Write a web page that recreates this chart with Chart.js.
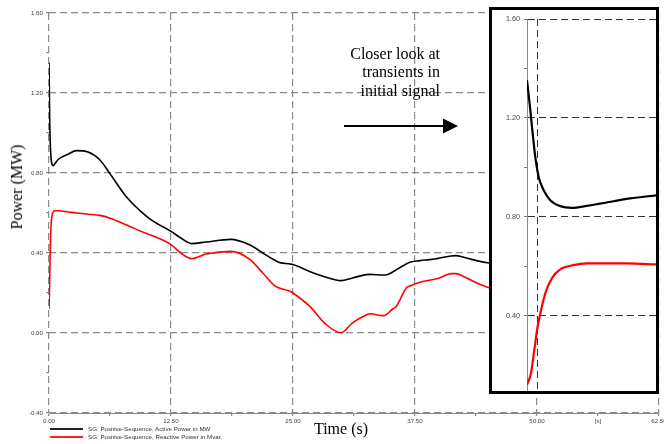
<!DOCTYPE html>
<html>
<head>
<meta charset="utf-8">
<script src="https://cdn.jsdelivr.net/npm/chart.js@4.4.0/dist/chart.umd.min.js"></script>
<style>
  html, body { margin: 0; padding: 0; background: #fff; }
  #wrap { position: relative; width: 664px; height: 444px; overflow: hidden; }
  #main { position: absolute; left: 0; top: 0; }
  #insetBox { position: absolute; left: 489px; top: 7px; width: 164px; height: 381px; border: 3px solid #000; background: #fff; }
  #inset { position: absolute; left: 0; top: 0; }
  .serif { font-family: 'Liberation Serif', 'Times New Roman', serif; color: #000; font-size: 16px; position: absolute; white-space: nowrap; }
  #ytitle { left: 17px; top: 187px; transform: translate(-50%, -50%) rotate(-90deg); }
  #xtitle { left: 341px; top: 429px; transform: translate(-50%, -50%); }
  #note { left: 0; top: 45px; width: 440px; text-align: right; line-height: 18.3px; }
  .leg { position: absolute; left: 50px; font-family: 'Liberation Sans', Arial, sans-serif; font-size: 6.2px; color: #333; white-space: nowrap; line-height: 8px; }
  .leg span { display: inline-block; width: 33px; height: 2px; vertical-align: middle; margin-right: 5px; }
</style>
</head>
<body>
<div id="wrap">
  <canvas id="main" width="664" height="444"></canvas>
  <div class="serif" id="ytitle">Power (MW)</div>
  <div class="serif" id="xtitle">Time (s)</div>
  <div class="serif" id="note">Closer look at<br>transients in<br>initial signal</div>
  <svg width="664" height="444" style="position:absolute;left:0;top:0;pointer-events:none">
    <line x1="344" y1="126" x2="446" y2="126" stroke="#000" stroke-width="2"/>
    <polygon points="443,118.5 458,126 443,133.5" fill="#000"/>
  </svg>
  <div class="leg" style="top:425px"><span style="background:#222"></span>SG: Positive-Sequence, Active Power in MW</div>
  <div class="leg" style="top:433px"><span style="background:#f22"></span>SG: Positive-Sequence, Reactive Power in Mvar</div>
  <div id="insetBox"><canvas id="inset" width="164" height="381"></canvas></div>
</div>
<script>
// main chart, whole run (s)
const mainTime = [0, 0.03, 0.08, 0.12, 0.17, 0.23, 0.31, 0.42, 0.56, 0.65, 1.0, 2.0, 2.8, 4.0, 5.2, 6.2, 7.9, 10.0, 10.7, 12.5, 13.5, 14.6, 16.1, 18.6, 20.6, 21.9, 23.1, 23.6, 24.7, 25.0, 26.7, 28.4, 29.9, 31.1, 32.5, 32.9, 34.2, 34.5, 35.2, 35.6, 36.6, 36.9, 38.0, 39.0, 39.7, 40.0, 41.2, 41.7, 42.4, 43.8, 45.1, 46.5];
const activePower = [1.352, 1.235, 1.04, 0.96, 0.905, 0.866, 0.843, 0.836, 0.844, 0.85, 0.87, 0.895, 0.912, 0.905, 0.866, 0.80, 0.683, 0.583, 0.558, 0.508, 0.475, 0.447, 0.455, 0.468, 0.44, 0.40, 0.365, 0.353, 0.345, 0.342, 0.308, 0.279, 0.262, 0.275, 0.292, 0.293, 0.290, 0.290, 0.305, 0.317, 0.345, 0.353, 0.362, 0.367, 0.371, 0.375, 0.385, 0.387, 0.38, 0.362, 0.350, 0.345];
const reactivePower = [0.12, 0.16, 0.29, 0.40, 0.49, 0.55, 0.587, 0.603, 0.611, 0.611, 0.611, 0.605, 0.60, 0.594, 0.588, 0.575, 0.541, 0.497, 0.485, 0.442, 0.40, 0.372, 0.395, 0.408, 0.367, 0.30, 0.237, 0.225, 0.209, 0.20, 0.134, 0.042, 0.001, 0.051, 0.09, 0.096, 0.087, 0.09, 0.12, 0.134, 0.225, 0.234, 0.254, 0.264, 0.271, 0.275, 0.297, 0.297, 0.284, 0.251, 0.226, 0.21];

// inset, first 1.2 s
const insetTimeActive = [0, 0.031, 0.056, 0.077, 0.108, 0.154, 0.216, 0.309, 0.418, 0.557, 0.68, 0.959, 1.206];
const insetActive = [1.352, 1.231, 1.123, 1.042, 0.962, 0.908, 0.867, 0.843, 0.836, 0.844, 0.853, 0.874, 0.887];
const insetTimeReactive = [0, 0.037, 0.068, 0.099, 0.124, 0.17, 0.232, 0.309, 0.432, 0.557, 0.68, 0.928, 1.206];
const insetReactive = [0.12, 0.167, 0.261, 0.356, 0.409, 0.49, 0.551, 0.587, 0.604, 0.611, 0.611, 0.611, 0.607];

const xTicks = [0, 6.25, 12.5, 18.75, 25, 31.25, 37.5, 43.75, 50, 56.25, 62.5];
const xTickLabels = ['0.00', '', '12.50', '', '25.00', '', '37.50', '', '50.00', '[s]', '62.50'];
const yTicks = [-0.4, -0.2, 0, 0.2, 0.4, 0.6, 0.8, 1.0, 1.2, 1.4, 1.6];
const yTickLabels = ['-0.40', '', '0.00', '', '0.40', '', '0.80', '', '1.20', '', '1.60'];
const insetYTicks = [0.4, 0.6, 0.8, 1.0, 1.2, 1.4, 1.6];
const insetYLabels = ['0.40', '', '0.80', '', '1.20', '', '1.60'];
const insetXGrid = [0.1];

const seriesNames = ['SG: Positive-Sequence, Active Power in MW', 'SG: Positive-Sequence, Reactive Power in Mvar'];

const gridGray = '#8a8a8a';

function pts(xs, ys) {
    return xs.map((x, i) => ({ x: x, y: ys[i] }));
}

const mainChart = new Chart(document.getElementById('main'), {
    type: 'line',
    data: {
        datasets: [{
            label: seriesNames[0],
            data: pts(mainTime, activePower),
            borderColor: '#000',
            borderWidth: 1.6,
            pointRadius: 0,
            cubicInterpolationMode: 'monotone'
        }, {
            label: seriesNames[1],
            data: pts(mainTime, reactivePower),
            borderColor: '#ff0000',
            borderWidth: 1.6,
            pointRadius: 0,
            cubicInterpolationMode: 'monotone'
        }]
    },
    options: {
        responsive: false,
        animation: false,
        plugins: { legend: { display: false }, tooltip: { enabled: false } },
        layout: { padding: { top: 13, right: 5, bottom: 0, left: 0 } },
        scales: {
            x: {
                type: 'linear',
                min: 0,
                max: 62.5,
                afterBuildTicks: s => { s.ticks = xTicks.map(v => ({ value: v })); },
                afterFit: s => { s.height = 31; s.paddingLeft = 0; s.paddingRight = 0; },
                ticks: {
                    font: { family: 'Liberation Sans', size: 6.2 }, color: '#444', padding: 2, maxRotation: 0, autoSkip: false,
                    callback: (v, i) => xTickLabels[i]
                },
                grid: {
                    color: c => (c.tick && c.tick.value % 12.5 === 0) ? gridGray : 'rgba(0,0,0,0)',
                    lineWidth: 1.2,
                    tickLength: 3,
                    tickColor: gridGray
                },
                border: { display: true, color: gridGray, width: 1, dash: [7, 4] }
            },
            y: {
                min: -0.4,
                max: 1.6,
                afterBuildTicks: s => { s.ticks = yTicks.map(v => ({ value: v })); },
                afterFit: s => { s.width = 49; s.paddingTop = 0; s.paddingBottom = 0; },
                ticks: {
                    font: { family: 'Liberation Sans', size: 6.2 }, color: '#444', padding: 3, autoSkip: false,
                    callback: (v, i) => yTickLabels[i]
                },
                grid: {
                    color: c => (c.index !== undefined && yTickLabels[c.index]) ? gridGray : 'rgba(0,0,0,0)',
                    lineWidth: 1.2,
                    tickLength: 3,
                    tickColor: gridGray
                },
                border: { display: false, dash: [7, 4] }
            }
        }
    }
});

const insetChart = new Chart(document.getElementById('inset'), {
    type: 'line',
    data: {
        datasets: [{
            label: seriesNames[0],
            data: pts(insetTimeActive, insetActive),
            borderColor: '#000',
            borderWidth: 2.2,
            pointRadius: 0,
            cubicInterpolationMode: 'monotone'
        }, {
            label: seriesNames[1],
            data: pts(insetTimeReactive, insetReactive),
            borderColor: '#ff0000',
            borderWidth: 2.2,
            pointRadius: 0,
            cubicInterpolationMode: 'monotone'
        }]
    },
    options: {
        responsive: false,
        animation: false,
        plugins: { legend: { display: false }, tooltip: { enabled: false } },
        layout: { padding: { top: 9, right: 0, bottom: 0, left: 0 } },
        scales: {
            x: {
                type: 'linear',
                min: 0,
                max: 1.2,
                afterBuildTicks: s => { s.ticks = insetXGrid.map(v => ({ value: v })); },
                afterFit: s => { s.height = 0; s.paddingLeft = 0; s.paddingRight = 0; },
                ticks: { display: false },
                grid: { color: '#333', lineWidth: 1, drawTicks: false },
                border: { display: false, dash: [7, 4] }
            },
            y: {
                min: 0.095,
                max: 1.6,
                afterBuildTicks: s => { s.ticks = insetYTicks.map(v => ({ value: v })); },
                afterFit: s => { s.width = 35; s.paddingTop = 0; s.paddingBottom = 0; },
                ticks: {
                    font: { family: 'Liberation Sans', size: 7.2 }, color: '#444', padding: 4, autoSkip: false,
                    callback: (v, i) => insetYLabels[i]
                },
                grid: {
                    color: c => (c.index !== undefined && insetYLabels[c.index]) ? '#333' : 'rgba(0,0,0,0)',
                    lineWidth: 1,
                    tickLength: 3,
                    tickColor: '#777'
                },
                border: { display: true, color: '#888', width: 1, dash: [7, 4] }
            }
        }
    }
});
</script>
</body>
</html>
